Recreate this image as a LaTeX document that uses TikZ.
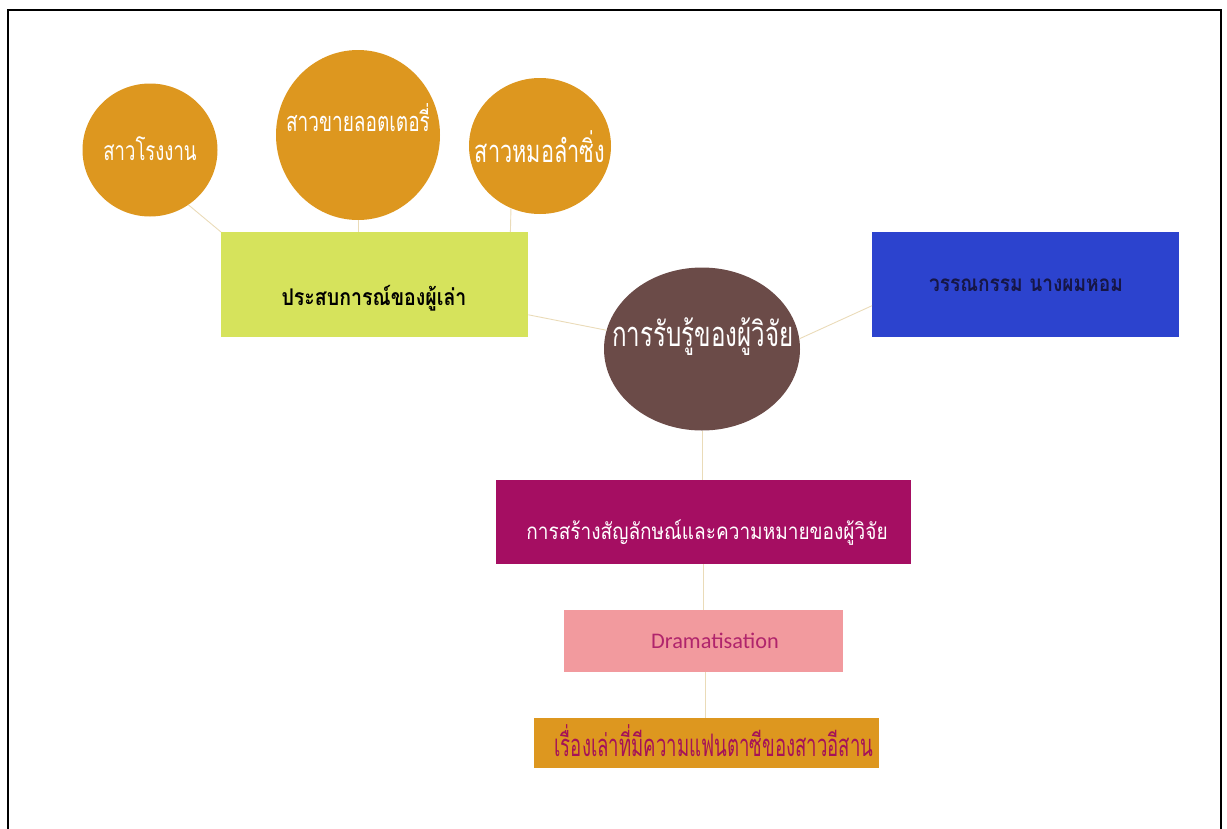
\documentclass[tikz,border=0pt]{standalone}
\usepackage{fontspec}
\setsansfont{Carlito}
\newfontfamily\thaifont[Script=Thai]{Loma}
\newfontfamily\thaimid[Script=Thai,FakeStretch=0.85]{Loma}
\newfontfamily\thaicond[Script=Thai,FakeStretch=0.7]{Loma}
\newfontfamily\thainarrow[Script=Thai,FakeStretch=0.6]{Loma}
\usetikzlibrary{shapes.geometric}
\definecolor{orbfill}{RGB}{221,151,31}
\definecolor{expfill}{RGB}{214,227,92}
\definecolor{percfill}{RGB}{107,75,72}
\definecolor{litfill}{RGB}{44,67,206}
\definecolor{symbfill}{RGB}{165,14,98}
\definecolor{dramafill}{RGB}{242,154,158}
\definecolor{dramatext}{RGB}{176,36,108}
\definecolor{storytext}{RGB}{165,18,88}
\definecolor{littext}{RGB}{22,22,70}
\definecolor{linkcol}{RGB}{234,219,184}

\begin{document}
\begin{tikzpicture}[x=1pt,y=-1pt,
  orb/.style={ellipse,fill=orbfill,inner sep=0pt},
  box/.style={rectangle,inner sep=0pt,anchor=north west},
  word/.style={anchor=base,inner sep=0pt,font=\thaimid\fontsize{#1}{#1}\selectfont},
  tall/.style={anchor=base,inner sep=0pt,font=\thaicond\fontsize{#1}{#1}\selectfont},
  link/.style={draw=linkcol,line width=0.9pt}]
\useasboundingbox (0,0) rectangle (1227,828);
\draw[line width=2.6pt] (8,830) -- (8,10) -- (1221,10) -- (1221,830);

\node[orb,minimum width=135pt,minimum height=133pt] (factory) at (150,150) {};
\node[orb,minimum width=164pt,minimum height=170pt] (lottery) at (358,135) {};
\node[orb,minimum width=142pt,minimum height=136pt] (singer) at (540,146) {};
\node[box,fill=expfill,minimum width=307pt,minimum height=105pt] (exp) at (221,232) {};
\node[ellipse,fill=percfill,inner sep=0pt,minimum width=196pt,minimum height=163pt] (percep) at (702,349) {};
\node[box,fill=litfill,minimum width=307pt,minimum height=105pt] (lit) at (872,232) {};
\node[box,fill=symbfill,minimum width=415pt,minimum height=84pt] (symb) at (496,480) {};
\node[box,fill=dramafill,minimum width=279pt,minimum height=62pt] (drama) at (564,610) {};
\node[box,fill=orbfill,minimum width=345pt,minimum height=50pt] (story) at (534,718) {};

\node[tall=26.5,text=white] (factorytext) at (150,160) {สาวโรงงาน};
\node[tall=27.2,text=white] (lotterytext) at (358,131) {สาวขายลอตเตอรี่};
\node[tall=31,text=white] (singertext) at (540,162) {สาวหมอลำซิ่ง};
\node[word=23,text=black] (exptext) at (374,305) {\bfseries ประสบการณ์ของผู้เล่า};
\node[tall=34.5,text=white] (perceptext) at (703,346) {การรับรู้ของผู้วิจัย};
\node[word=22.5,text=littext] (littext) at (1026,291) {\bfseries วรรณกรรม นางผมหอม};
\node[word=22.4,text=white] (symbtext) at (707,539) {การสร้างสัญลักษณ์และความหมายของผู้วิจัย};
\node[anchor=base,inner sep=0pt,text=dramatext,font=\sffamily\fontsize{22.3}{22.3}\selectfont] (dramatext) at (715,648) {Dramatisation};
\node[anchor=base,inner sep=0pt,text=storytext,font=\thainarrow\fontsize{31}{31}\selectfont] (storytext) at (714,756) {เรื่องเล่าที่มีความแฟนตาซีของสาวอีสาน};

\draw[link] (factory.-55) -- (exp.north west);
\draw[link] (lottery.south) -- (lottery.south |- exp.north);
\draw[link] (singer.-115) -- ([xshift=-18pt]exp.north east);
\draw[link] (exp) -- (percep);
\draw[link] (percep.6) -- ([yshift=-21pt]lit.west);
\draw[link] (percep.south) -- (percep.south |- symb.north);
\draw[link] (symb.south) -- (symb.south |- drama.north);
\draw[link] ([xshift=2pt]drama.south) -- ([xshift=2pt]drama.south |- story.north);
\end{tikzpicture}
\end{document}
